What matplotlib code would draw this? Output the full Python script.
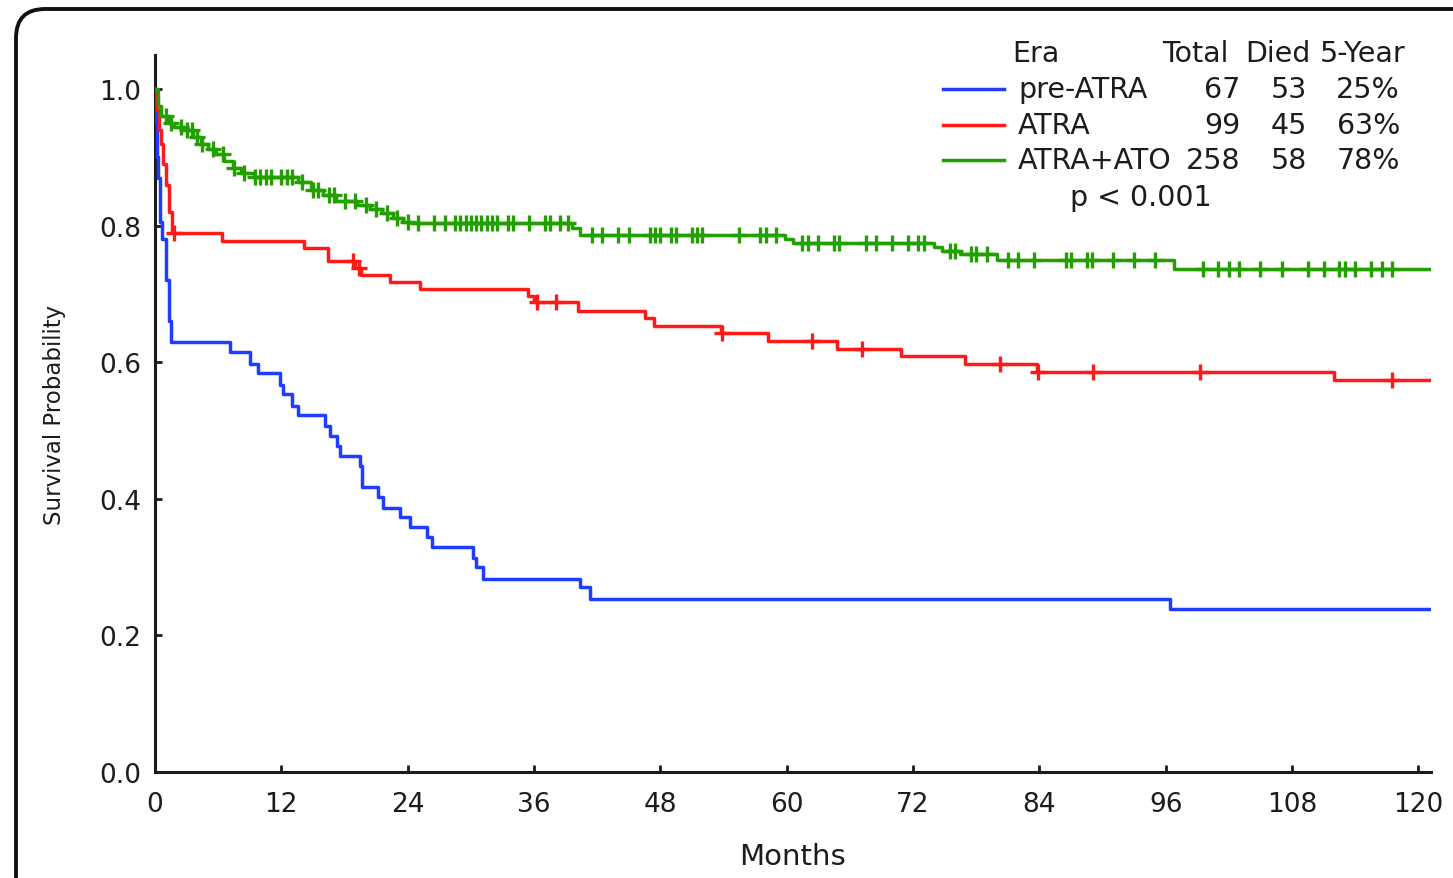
import numpy as np
import matplotlib.pyplot as plt
from matplotlib.patches import FancyBboxPatch
from matplotlib.lines import Line2D

plt.rcParams['font.family'] = ['DejaVu Sans']

# Kaplan-Meier steps: (month, survival after the drop)
pre_atra_t = [0.1, 0.2, 0.3, 0.5, 0.7, 1.0, 1.3, 1.5, 7.1, 9.0, 9.8, 11.9, 12.2, 13.0, 13.6,
              16.1, 16.6, 17.3, 17.6, 19.5, 19.7, 21.2, 21.7, 23.3, 24.2, 25.8, 26.3, 30.2,
              30.5, 31.2, 40.4, 41.3, 96.4]
pre_atra_s = [0.95, 0.90, 0.87, 0.805, 0.78, 0.72, 0.66, 0.63, 0.615, 0.597, 0.584, 0.567, 0.553,
              0.536, 0.523, 0.507, 0.492, 0.478, 0.463, 0.448, 0.417, 0.403, 0.386, 0.373, 0.359,
              0.344, 0.329, 0.314, 0.300, 0.283, 0.271, 0.253, 0.238]
pre_atra_cens = []

atra_t = [0.2, 0.4, 0.6, 0.8, 1.0, 1.3, 1.6, 6.4, 14.2, 16.4, 19.0, 19.6, 22.3, 25.2, 35.4, 36.0,
          40.2, 46.5, 47.4, 53.8, 58.2, 64.8, 70.9, 76.9, 83.8, 112.0]
atra_s = [0.97, 0.94, 0.92, 0.89, 0.86, 0.82, 0.79, 0.778, 0.768, 0.748, 0.738, 0.728, 0.717, 0.707,
          0.697, 0.688, 0.675, 0.665, 0.653, 0.643, 0.631, 0.620, 0.609, 0.598, 0.586, 0.574]
atra_cens = [1.8, 18.8, 19.4, 36.3, 38.1, 53.9, 62.4, 67.2, 80.3, 83.9, 89.1, 99.3, 117.5]

ato_t = [0.3, 0.6, 1.2, 1.8, 3.0, 3.6, 4.4, 5.0, 5.8, 6.6, 7.4, 8.2, 9.4, 13.6, 14.8, 16.0, 17.2,
         19.2, 20.4, 21.6, 22.6, 23.6, 24.4, 39.6, 40.4, 59.8, 60.6, 74.0, 74.8, 76.5, 80.0, 96.8]
ato_s = [0.975, 0.96, 0.95, 0.945, 0.94, 0.93, 0.92, 0.912, 0.905, 0.895, 0.885, 0.877, 0.871,
         0.864, 0.852, 0.845, 0.836, 0.830, 0.824, 0.818, 0.812, 0.806, 0.804, 0.797, 0.786,
         0.781, 0.775, 0.769, 0.763, 0.758, 0.750, 0.737]
ato_cens = [1, 1.5, 2.5, 3, 3.5, 4, 4.5, 5.5, 6.5, 7.5, 8.5, 9.5, 10, 10.5, 11, 12, 12.5, 13,
            14, 15, 15.5, 16.5, 17, 18, 19, 20, 21, 22, 23, 24, 25, 26.5, 27.5, 28.5, 29,
            29.5, 30, 30.5, 31, 31.5, 32, 32.5, 33.5, 34, 35.5, 37, 37.5, 38.5, 39.2, 41.5,
            42.5, 44, 45, 47, 47.5, 48, 49, 49.5, 51, 51.5, 52, 55.5, 57.5, 58, 59, 61.5, 62,
            63, 64.5, 65, 67.5, 68.5, 70, 71.5, 72.5, 73, 75.5, 76, 77.5, 78, 79, 81, 82,
            83.5, 86.5, 87, 88.5, 89, 91, 93, 95, 99.5, 101, 102, 103, 105, 107, 109.5, 111,
            112.5, 113, 114, 115.5, 116.5, 117.5]

end_month = 121
era = ['pre-ATRA', 'ATRA', 'ATRA+ATO']
total = [67, 99, 258]
died = [53, 45, 58]
five_year = ['25%', '63%', '78%']
colors = ['#1f3dff', '#ff1a1a', '#22a000']

W, H = 1453, 879
fig = plt.figure(figsize=(W / 100, H / 100), dpi=100)
ax = fig.add_axes([155 / W, 1 - 773 / H, (1431 - 155) / W, (773 - 56) / H])

series = [(pre_atra_t, pre_atra_s, pre_atra_cens),
          (atra_t, atra_s, atra_cens),
          (ato_t, ato_s, ato_cens)]
for (t, s, c), col in zip(series, colors):
    tt = np.array([0] + t + [end_month])
    ss = np.array([1.0] + s + [s[-1]])
    ax.step(tt, ss, where='post', color=col, lw=2.5, zorder=3)
    if c:
        c = np.array(c)
        idx = np.searchsorted(tt, c, side='right') - 1
        ax.plot(c, ss[idx], ls='none', marker='+', ms=11, mew=2.4, color=col, zorder=3)

txt = '#1c1c1c'
ax.set_xlim(0, 121.2)
ax.set_ylim(0, 1.05)
ax.set_xticks(np.arange(0, 121, 12))
ax.set_yticks([0, 0.2, 0.4, 0.6, 0.8, 1.0])
ax.set_yticklabels(['0.0', '0.2', '0.4', '0.6', '0.8', '1.0'])
for sp in ['top', 'right']:
    ax.spines[sp].set_visible(False)
for sp in ['left', 'bottom']:
    ax.spines[sp].set_linewidth(2.2)
    ax.spines[sp].set_color(txt)
ax.tick_params(direction='in', length=5, width=2, labelsize=19, colors=txt)
ax.tick_params(axis='x', pad=14)
ax.tick_params(axis='y', pad=10)
ax.set_xlabel('Months', fontsize=21, labelpad=18, color=txt)
ax.set_ylabel('Survival Probability', fontsize=16.5, labelpad=24, color=txt)

# legend drawn as a small table
def fx(x):
    return x / W


def fy(y):
    return 1 - y / H


tkw = dict(fontsize=20.5, color=txt, va='center')
fig.text(fx(1012), fy(54), 'Era', ha='left', **tkw)
fig.text(fx(1162), fy(54), 'Total', ha='left', **tkw)
fig.text(fx(1245), fy(54), 'Died', ha='left', **tkw)
fig.text(fx(1320), fy(54), '5-Year', ha='left', **tkw)
rows_y = [90, 126, 161]
for i in range(3):
    y = rows_y[i]
    fig.add_artist(Line2D([fx(943), fx(1004)], [fy(y), fy(y)], color=colors[i], lw=2.5,
                          transform=fig.transFigure))
    fig.text(fx(1018), fy(y), era[i], ha='left', **tkw)
    fig.text(fx(1240), fy(y), str(total[i]), ha='right', **tkw)
    fig.text(fx(1307), fy(y), str(died[i]), ha='right', **tkw)
    fig.text(fx(1400), fy(y), five_year[i], ha='right', **tkw)
fig.text(fx(1070), fy(198), 'p < 0.001', ha='left', **tkw)

# rounded frame around the panel
frame = FancyBboxPatch((fx(16), fy(960)), fx(1600), (960 - 10) / H,
                       boxstyle='round,pad=0,rounding_size=0.02',
                       transform=fig.transFigure, fill=False, ec='#111111', lw=2.8,
                       mutation_aspect=W / H)
fig.add_artist(frame)

fig.savefig('out.png', dpi=100)
